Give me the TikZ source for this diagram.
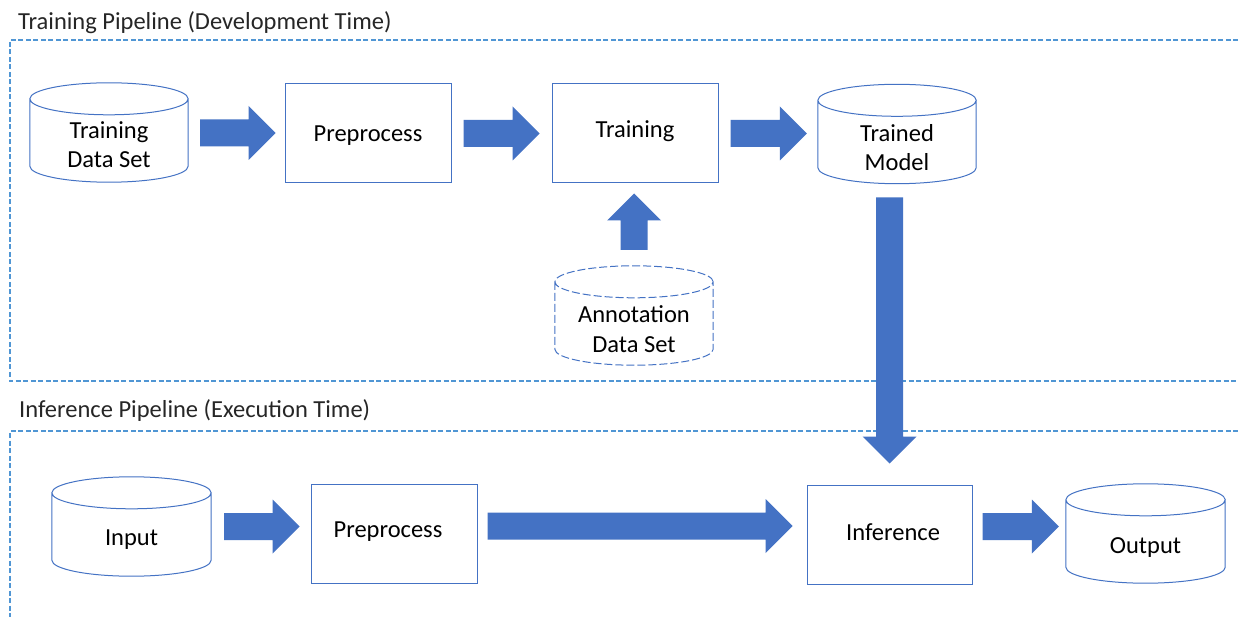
\documentclass[tikz,border=0pt]{standalone}
\usepackage{fontspec}
\setmainfont{Carlito}
\usetikzlibrary{calc}
\definecolor{blk}{RGB}{68,114,196}
\definecolor{frm}{RGB}{80,150,212}
\definecolor{ttl}{RGB}{38,38,38}
\tikzset{
 boxnode/.style={draw=blk, line width=1pt, minimum width=166pt, minimum height=99pt, inner sep=0pt},
 cylbox/.style={minimum width=158pt, minimum height=99pt, inner sep=0pt},
 cylline/.style={draw=blk, line width=1pt},
 lbl/.style={font=\fontsize{24.5}{29.5}\selectfont, align=center, anchor=base, inner sep=0pt},
 ttlstyle/.style={font=\fontsize{24.5}{29.5}\selectfont, text=ttl, anchor=base west, inner sep=0pt},
 framestyle/.style={draw=frm, line width=1.3pt, dash pattern=on 5pt off 2.5pt},
}
\newcommand\cylshape[2][]{%
 \draw[cylline,#1] let \p1=(#2.north west), \p2=(#2.south east), \n1={(\x2-\x1)/2} in
 (\x1,\y1-16pt) -- (\x1,\y2+16pt) arc[start angle=180, end angle=360, x radius=\n1, y radius=16pt] -- (\x2,\y1-16pt)
 ({(\x1+\x2)/2},\y1-16pt) ellipse [x radius=\n1, y radius=16pt];
}
\newcommand\rarrow[2]{\fill[blk] let \p1=#1, \p2=#2 in (\x1,\y1+13.5pt) -- (\x2-27pt,\y1+13.5pt) -- (\x2-27pt,\y1+27pt) -- (\x2,\y1) -- (\x2-27pt,\y1-27pt) -- (\x2-27pt,\y1-13.5pt) -- (\x1,\y1-13.5pt) -- cycle;}
\newcommand\uarrow[2]{\fill[blk] let \p1=#1, \p2=#2 in (\x1-13.5pt,\y1) -- (\x1-13.5pt,\y2-27pt) -- (\x1-27pt,\y2-27pt) -- (\x1,\y2) -- (\x1+27pt,\y2-27pt) -- (\x1+13.5pt,\y2-27pt) -- (\x1+13.5pt,\y1) -- cycle;}
\newcommand\darrow[2]{\fill[blk] let \p1=#1, \p2=#2 in (\x1-13.5pt,\y1) -- (\x1-13.5pt,\y2+27pt) -- (\x1-27pt,\y2+27pt) -- (\x1,\y2) -- (\x1+27pt,\y2+27pt) -- (\x1+13.5pt,\y2+27pt) -- (\x1+13.5pt,\y1) -- cycle;}
\begin{document}
\begin{tikzpicture}[x=1pt,y=-1pt]
\useasboundingbox[fill=white] (0,0) rectangle (1238,617);
% frames
\coordinate (f1a) at (10,40); \coordinate (f1b) at (1238,40);
\coordinate (f1c) at (10,381); \coordinate (f1d) at (1238,381);
\coordinate (f2a) at (10,431); \coordinate (f2b) at (1238,431);
\coordinate (f2c) at (10,617);
\draw[framestyle] (f1b) -- (f1a) -- (f1c) -- (f1d);
\draw[framestyle] (f2b) -- (f2a) -- (f2c);
% titles
\node[ttlstyle] (t1) at (18,30) {Training Pipeline (Development Time)};
\node[ttlstyle] (t2) at (19,417) {Inference Pipeline (Execution Time)};
% top row
\node[cylbox] (tds) at (109,132.5) {};
\cylshape{tds}
\node[lbl] (tdsL) at (109,168) {Training\\Data Set};
\node[boxnode] (pre1) at (368,133.5) {};
\node[lbl] (pre1L) at (368,142) {Preprocess};
\node[boxnode] (train) at (635,133.5) {};
\node[lbl] (trainL) at (635,138) {Training};
\node[cylbox] (tm) at (897,134) {};
\cylshape{tm}
\node[lbl] (tmL) at (897,171) {Trained\\Model};
\node[cylbox] (ann) at (634,315.5) {};
\cylshape[dash pattern=on 8pt off 3pt]{ann}
\node[lbl] (annL) at (634,352) {Annotation\\Data Set};
% bottom row
\node[cylbox, minimum width=159pt] (inp) at (131.5,526.5) {};
\cylshape{inp}
\node[lbl] (inpL) at (131.5,545) {Input};
\node[boxnode] (pre2) at (394,533.5) {};
\node[lbl] (pre2L) at (388,537) {Preprocess};
\node[boxnode, minimum width=165pt] (inf) at (889.5,534.5) {};
\node[lbl] (infL) at (893,540) {Inference};
\node[cylbox, minimum width=159pt] (out) at (1145.5,533.5) {};
\cylshape{out}
\node[lbl] (outL) at (1145.5,553) {Output};
% block arrows
\rarrow{($(tds.east)+(12,0.5)$)}{($(pre1.west)+(-9,0)$)}
\rarrow{($(pre1.east)+(12,0)$)}{($(train.west)+(-12,0)$)}
\rarrow{($(train.east)+(12,0)$)}{($(tm.west)+(-11,0)$)}
\uarrow{($(ann.north)+(0,-16)$)}{($(train.south)+(0,10)$)}
\darrow{($(inf.north)+(0,-287)$)}{($(inf.north)+(0,-21)$)}
\rarrow{($(inp.east)+(13,0)$)}{($(pre2.west)+(-11,0)$)}
\rarrow{($(pre2.east)+(10,-7.5)$)}{($(inf.west)+(-14,0)$)}
\rarrow{($(inf.east)+(10,-8)$)}{($(out.west)+(-7,0)$)}
\end{tikzpicture}
\end{document}
